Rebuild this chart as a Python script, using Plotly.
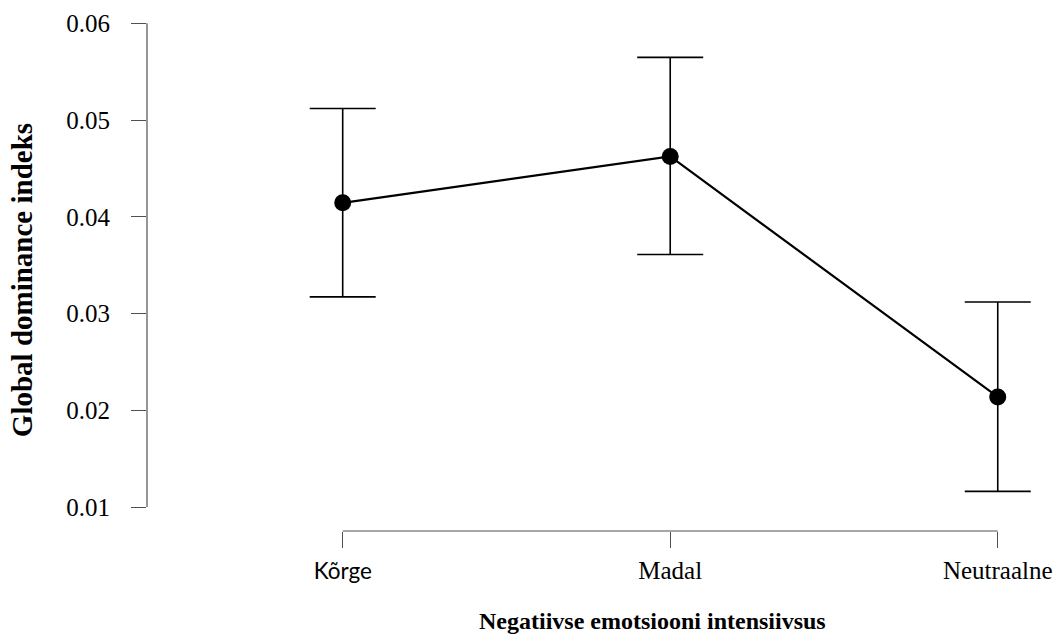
import plotly.graph_objects as go

categories = ["Kõrge", "Madal", "Neutraalne"]
means = [0.04145, 0.04624, 0.02138]
ci_upper = [0.05120, 0.05648, 0.03120]
ci_lower = [0.03172, 0.03611, 0.01162]
y_ticks = [0.01, 0.02, 0.03, 0.04, 0.05, 0.06]
y_ticktext = ["0.01", "0.02", "0.03", "0.04", "0.05", "0.06"]
x_ticktext = ['<span style="font-family:Lato;font-size:22.5px">Kõrge</span>', "Madal", "Neutraalne"]

x_pos = list(range(len(categories)))
err_plus = [u - m for u, m in zip(ci_upper, means)]
err_minus = [m - l for m, l in zip(means, ci_lower)]

serif = "Liberation Serif"
axis_col = "#505050"

W, H = 1056, 636
L, R, T, B = 147, 16, 10, 105.3
pw, ph = W - L - R, H - T - B

fig = go.Figure()
fig.add_trace(go.Scatter(
    x=x_pos, y=means, mode="lines+markers",
    line=dict(color="black", width=2.2),
    marker=dict(color="black", size=17),
    error_y=dict(type="data", symmetric=False, array=err_plus, arrayminus=err_minus,
                 color="black", thickness=1.6, width=33),
    showlegend=False,
))

# range-frame axis lines
fig.add_shape(type="line", xref="paper", yref="y", x0=0, x1=0,
              y0=y_ticks[0], y1=y_ticks[-1], line=dict(color=axis_col, width=1.2))
fig.add_shape(type="line", xref="x", yref="paper", x0=x_pos[0], x1=x_pos[-1],
              y0=0, y1=0, line=dict(color=axis_col, width=1.2))

fig.update_xaxes(
    range=[-0.5975, 2.129], showline=False, showgrid=False, zeroline=False,
    tickmode="array", tickvals=x_pos, ticktext=x_ticktext,
    ticks="outside", ticklen=16, tickwidth=1.2, tickcolor=axis_col,
    tickfont=dict(family=serif, size=25, color="black"), ticklabelstandoff=1,
    ticklabeloverflow="allow", automargin=False,
)
fig.update_yaxes(
    range=[0.00752, 0.06138], showline=False, showgrid=False, zeroline=False,
    tickmode="array", tickvals=y_ticks, ticktext=y_ticktext,
    ticks="outside", ticklen=15, tickwidth=1.2, tickcolor=axis_col,
    tickfont=dict(family=serif, size=25, color="black"), ticklabelstandoff=16,
    automargin=False,
)

fig.add_annotation(text="<b>Negatiivse emotsiooni intensiivsus</b>", xref="paper", yref="paper",
                   x=(652 - L) / pw, y=-(621 - (H - B)) / ph,
                   xanchor="center", yanchor="middle", showarrow=False,
                   font=dict(family=serif, size=24, color="black"))
fig.add_annotation(text="<b>Global dominance indeks</b>", xref="paper", yref="paper",
                   x=-(L - 22) / pw, y=((H - B) - 280) / ph,
                   xanchor="center", yanchor="middle", showarrow=False, textangle=-90,
                   font=dict(family=serif, size=29, color="black"))

fig.update_layout(
    width=W, height=H,
    margin=dict(l=L, r=R, t=T, b=B, autoexpand=False),
    paper_bgcolor="white", plot_bgcolor="white",
)
fig.write_html("out.html", config={"displayModeBar": False},
               post_script="document.body.style.margin='0';document.body.style.overflow='hidden';")
